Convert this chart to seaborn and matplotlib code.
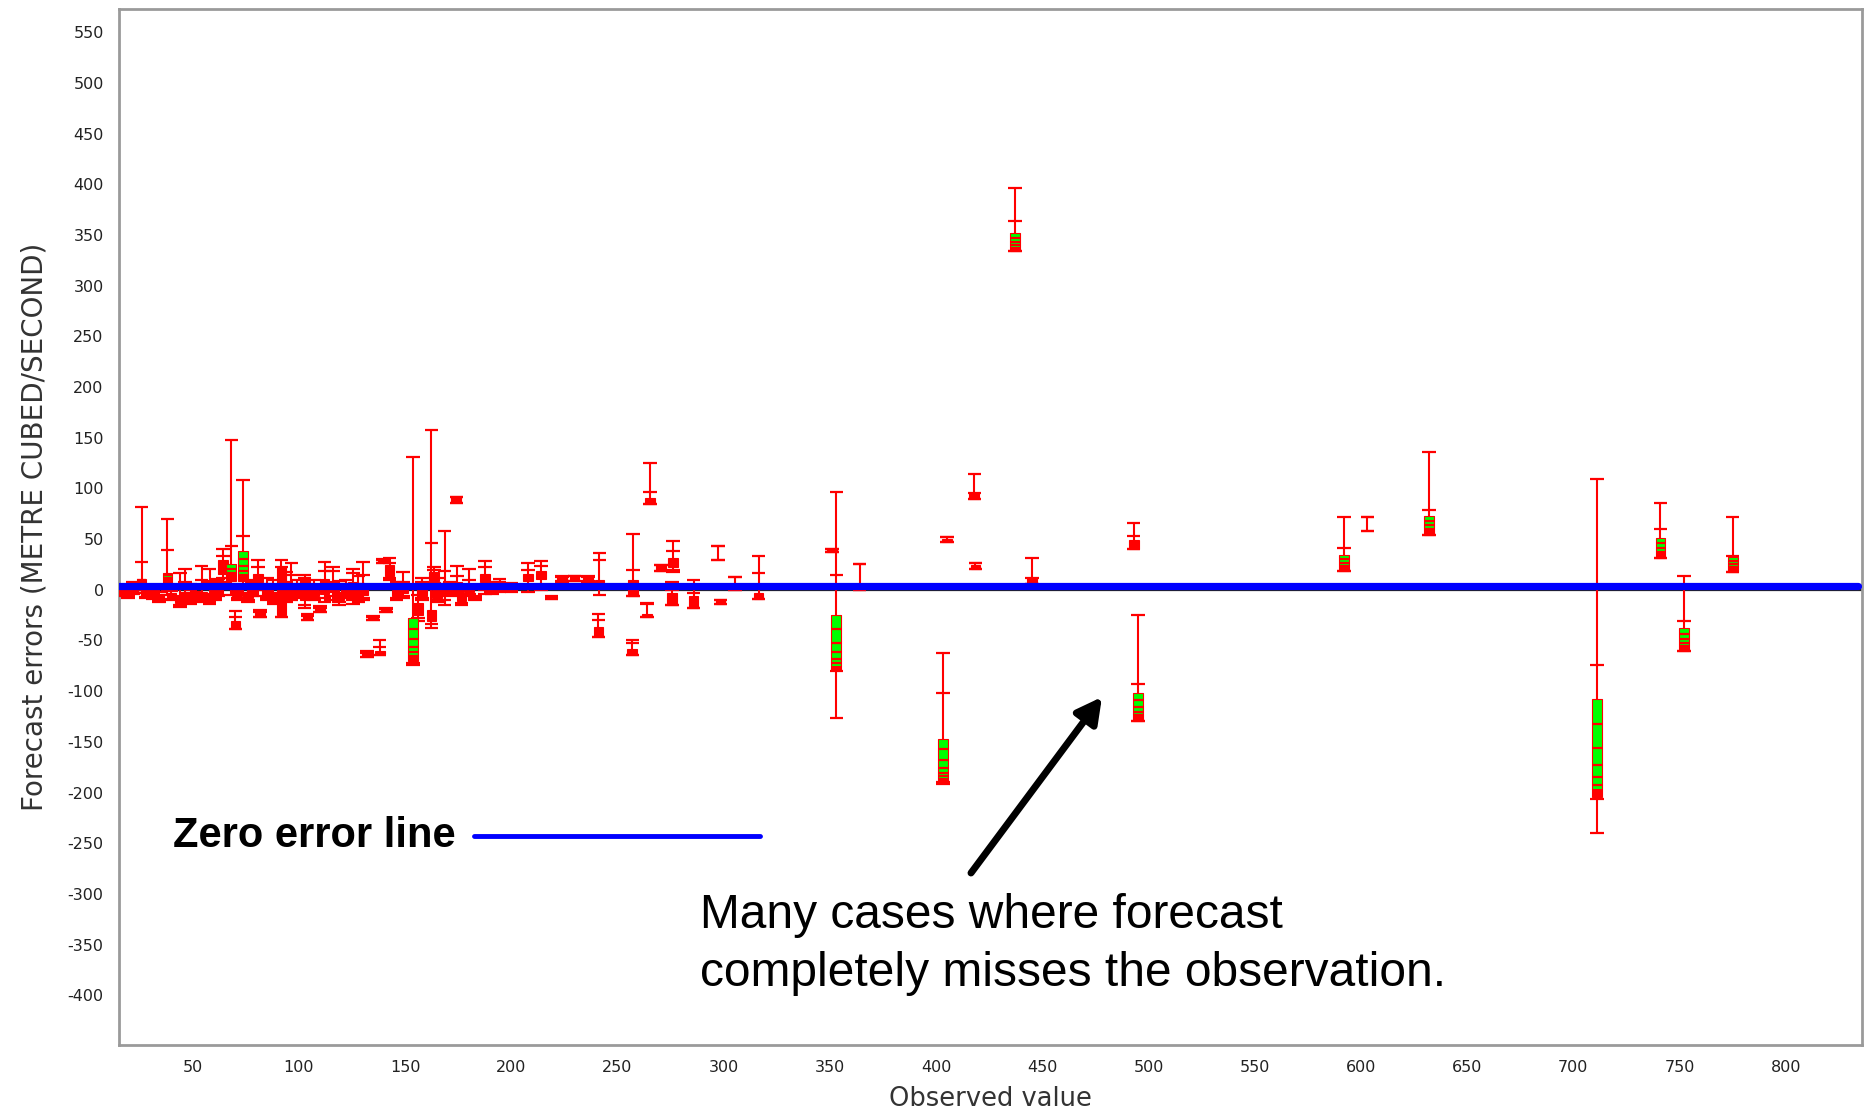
import numpy as np
import pandas as pd
import matplotlib
matplotlib.use("Agg")
import matplotlib.pyplot as plt
import seaborn as sns

# Each ensemble forecast is summarised by one box: whisker ends, inner caps,
# box edges, and whether the box is drawn with the green probability band.
obs_value = [
    17, 19.5, 22, 25.9, 28, 31, 34, 38.1, 40, 43.9,
    46.3, 49, 51, 54.2, 58, 60.5, 62, 64.3, 68.2, 70.1,
    71, 73.7, 76, 78, 80.8, 81.6, 85, 88, 91.8, 94,
    96.5, 99, 102.7, 104, 107, 110, 112.1, 116, 119, 122,
    125.6, 128, 130.3, 132, 135, 138, 139.5, 141, 142.7, 146,
    149, 153.7, 156, 158, 162.4, 163.5, 165, 168.6, 171, 174.1,
    174.5, 176.5, 180, 183, 187.5, 191, 194.5, 200, 207.8, 214,
    219, 224, 229.8, 236, 241.5, 241, 257.2, 257, 264, 265.4,
    270.6, 275.6, 276, 285.8, 297.2, 298.5, 305.4, 316.4, 353, 351,
    364, 403.3, 405, 418, 418.5, 437, 445, 493, 495, 592,
    603, 632, 711, 741, 752, 775,
]
whisker_low = [
    -6, -8, -4, -3, -8, -9, -12, -5, -10, -17,
    -12, -14, -8, -12, -14, -10, -6, 8, -5, -39,
    -10, -4, -12, -6, -6, -27, -10, -14, -27, -12,
    -10, -8, -18, -30, -10, -22, -12, -10, -15, -8,
    -14, -12, -10, -66, -30, -64, 26, -22, 10, -10,
    -8, -74, -31, -10, -38, 5, -12, -15, -6, 86,
    -5, -15, -6, -10, -4, -4, -2, -2, -2, 0,
    -9, 8, 9, 8, -5, -47, -6, -64, -27, 85,
    19, -15, 18, -18, 29, -14, 0, -9, -126, 37,
    0, -192, 47, 90, 21, 334, 6, 40, -129, 19,
    58, 54, -240, 31, -60, 18,
]
inner_low = [
    -5, -6, -3, 0, -7, -8, -11, 0, -9, -15,
    -10, -12, -7, -10, -12, -8, -5, 12, 2, -39,
    -8, 3, -10, -5, 0, -27, -8, -12, -27, -10,
    -8, -6, -15, -30, -8, -22, -8, -6, -12, -6,
    -10, -10, -8, -66, -30, -64, 26, -22, 12, -8,
    -6, -72, -28, -8, -34, 7, -10, -10, -5, 86,
    -3, -13, -4, -9, 0, -2, 0, -1, 2, 4,
    -9, 9, 9, 9, 3, -47, -6, -64, -27, 85,
    19, -15, 20, -18, 29, -14, 0, -9, -80, 37,
    0, -190, 47, 90, 21, 334, 6, 40, -129, 19,
    58, 54, -206, 31, -60, 18,
]
box_low = [
    -4, -4, -2, 6, -6, -7, -10, 7, -8, -13,
    -8, -10, -6, -8, -10, -6, -4, 16, 9, -39,
    -6, 9, -8, -4, 8, -27, -6, -10, -25, -8,
    -6, -4, -10, -29, -6, -21, -4, -2, -10, -4,
    -6, -8, -5, -65, -29, -63, 27, -21, 14, -6,
    -3, -70, -25, -6, -31, 9, -8, -3, -4, 87,
    -1, -11, -2, -8, 8, 0, 2, 0, 9, 11,
    -8, 10, 10, 10, 3, -46, -6, -64, -27, 85,
    19, -15, 22, -18, 29, -14, 0, -9, -79, 37,
    0, -189, 47, 90, 21, 334, 6, 40, -129, 19,
    58, 54, -204, 31, -60, 18,
]
box_high = [
    0, 0, 3, 11, -1, -2, -4, 17, -3, -5,
    -2, -4, -1, -2, -3, 0, 2, 29, 25, -31,
    0, 38, -2, 2, 16, -22, 0, -2, 22, 0,
    5, 2, 12, -26, 0, -18, 11, 9, -2, 2,
    8, 0, 4, -62, -27, -60, 29, -19, 24, 0,
    2, -28, -13, 4, -20, 18, 0, 5, 1, 92,
    8, -3, 4, -7, 16, 4, 6, 3, 16, 19,
    -7, 13, 14, 13, 10, -37, 10, -58, -24, 91,
    24, -3, 31, -6, 29, -10, 0, -3, -25, 40,
    0, -147, 50, 95, 24, 352, 12, 49, -102, 34,
    58, 73, -108, 51, -38, 32,
]
inner_high = [
    2, 3, 5, 27, 0, 0, -2, 39, -1, 5,
    8, 0, 2, 10, 8, 4, 6, 33, 43, -27,
    2, 53, 4, 4, 22, -22, 6, 4, 22, 8,
    15, 6, 12, -26, 5, -18, 19, 19, 4, 6,
    17, 6, 15, -62, -27, -56, 29, -19, 26, 4,
    8, 2, -5, 8, 46, 20, 6, 19, 4, 92,
    14, -1, 10, -7, 22, 6, 8, 5, 20, 23,
    -7, 13, 14, 13, 29, -30, 20, -52, -14, 96,
    24, 0, 38, -3, 43, -10, 13, 17, 15, 40,
    25, -102, 52, 95, 26, 364, 12, 53, -93, 41,
    72, 79, -74, 60, -31, 33,
]
whisker_high = [
    4, 5, 8, 82, 2, 3, 2, 70, 5, 17,
    21, 6, 5, 23, 21, 9, 11, 40, 148, -21,
    6, 108, 10, 8, 29, -20, 12, 10, 29, 18,
    26, 10, 15, -24, 10, -16, 27, 22, 9, 10,
    21, 14, 27, -60, -26, -50, 30, -18, 31, 8,
    18, 131, 5, 12, 158, 22, 12, 58, 8, 92,
    23, 3, 21, -6, 28, 8, 11, 7, 26, 28,
    -6, 14, 14, 14, 36, -24, 55, -50, -13, 125,
    24, 8, 48, 10, 43, -10, 13, 33, 96, 40,
    25, -62, 52, 114, 26, 396, 31, 66, -25, 72,
    72, 136, 109, 86, 14, 72,
]
box_green = [
    0, 0, 0, 1, 0, 0, 0, 1, 0, 0,
    0, 0, 0, 0, 0, 0, 0, 0, 1, 0,
    0, 1, 0, 0, 0, 0, 0, 0, 0, 0,
    0, 0, 0, 0, 0, 0, 0, 0, 0, 0,
    0, 0, 0, 0, 0, 0, 0, 0, 0, 0,
    0, 1, 0, 0, 0, 0, 0, 0, 0, 0,
    0, 0, 0, 0, 0, 0, 0, 0, 0, 0,
    0, 0, 0, 0, 0, 0, 0, 0, 0, 0,
    0, 0, 0, 0, 0, 0, 0, 0, 1, 0,
    0, 1, 0, 0, 0, 1, 0, 0, 1, 1,
    0, 1, 1, 1, 1, 1,
]

x_ticks = list(range(50, 801, 50))
y_ticks = list(range(-400, 551, 50))
zero_line_level = 4

boxes = pd.DataFrame({
    "observed": obs_value, "wl": whisker_low, "il": inner_low,
    "bl": box_low, "bh": box_high, "ih": inner_high, "wh": whisker_high,
    "green": box_green,
})

sns.set_style("white")
plt.rcParams["font.family"] = ["DejaVu Sans"]

RED = "#ff0000"
GREEN = "#00ff00"
BLUE = "#0000ff"

fig = plt.figure(figsize=(18.68, 11.15), dpi=100)
ax = fig.add_axes([0.0637, 0.0628, 0.9331, 0.9292])

box_w = 4.6
cap_w = 6.4
stripe_fracs = [0.25, 0.5, 0.68, 0.8, 0.88]

for r in boxes.itertuples(index=False):
    x = r.observed
    ax.vlines(x, r.wl, r.wh, color=RED, lw=1.5, zorder=3)
    for yv in (r.wl, r.wh, r.il, r.ih):
        ax.hlines(yv, x - cap_w / 2, x + cap_w / 2, color=RED, lw=1.6, zorder=3)
    h = r.bh - r.bl
    if h > 0:
        ax.bar(x, h, bottom=r.bl, width=box_w, color=GREEN if r.green else RED,
               edgecolor=RED, linewidth=0.8, zorder=4)
        if r.green:
            for f in stripe_fracs:
                ax.hlines(r.bh - f * h, x - box_w / 2, x + box_w / 2,
                          color=RED, lw=1.6, zorder=5)
            ax.bar(x, 0.08 * h, bottom=r.bl, width=box_w, color=RED,
                   linewidth=0, zorder=5)

# reference line at zero and the highlighted zero-error line
ax.axhline(0, color="#222222", lw=1.6, zorder=2)
zero_df = pd.DataFrame({"x": [15.3, 834.0], "y": [zero_line_level] * 2})
sns.lineplot(data=zero_df, x="x", y="y", color=BLUE, lw=5.2, ax=ax, zorder=6)

ax.set_xlim(15.3, 835.9)
ax.set_ylim(-449, 573)
ax.set_xticks(x_ticks)
ax.set_yticks(y_ticks)
ax.set_xticklabels([str(v) for v in x_ticks])
ax.set_yticklabels([str(v) for v in y_ticks])
ax.tick_params(axis="both", direction="out", length=5, width=1.2, color="#999999",
               labelsize=11.5, labelcolor="#222222", pad=6)
for s in ax.spines.values():
    s.set_color("#9a9a9a")
    s.set_linewidth(2)

ax.set_xlabel("Observed value", fontsize=18.5, color="#333333", labelpad=8)
ax.set_ylabel("Forecast errors (METRE CUBED/SECOND)", fontsize=20,
              color="#333333", labelpad=14)

# callouts
W, H = 1868, 1115
fig.text(173 / W, 1 - 836 / H, "Zero error line", family="Liberation Sans",
         fontsize=30, fontweight="bold", va="center", ha="left", color="black")
fig.add_artist(plt.Line2D([474 / W, 760 / W], [1 - 836 / H, 1 - 836 / H],
                          color=BLUE, lw=3.5))
fig.text(700 / W, 1 - 916 / H, "Many cases where forecast", family="Liberation Sans",
         fontsize=34.5, va="center", ha="left", color="black")
fig.text(700 / W, 1 - 974 / H, "completely misses the observation.",
         family="Liberation Sans", fontsize=34.5, va="center", ha="left", color="black")
ax.annotate("", xy=(1102 / W, 1 - 697 / H), xytext=(971 / W, 1 - 873 / H),
            xycoords="figure fraction", textcoords="figure fraction",
            arrowprops=dict(arrowstyle="-|>,head_length=1.5,head_width=0.8",
                            color="black", lw=5, shrinkA=0, shrinkB=0))

fig.savefig("out.png", dpi=100)
